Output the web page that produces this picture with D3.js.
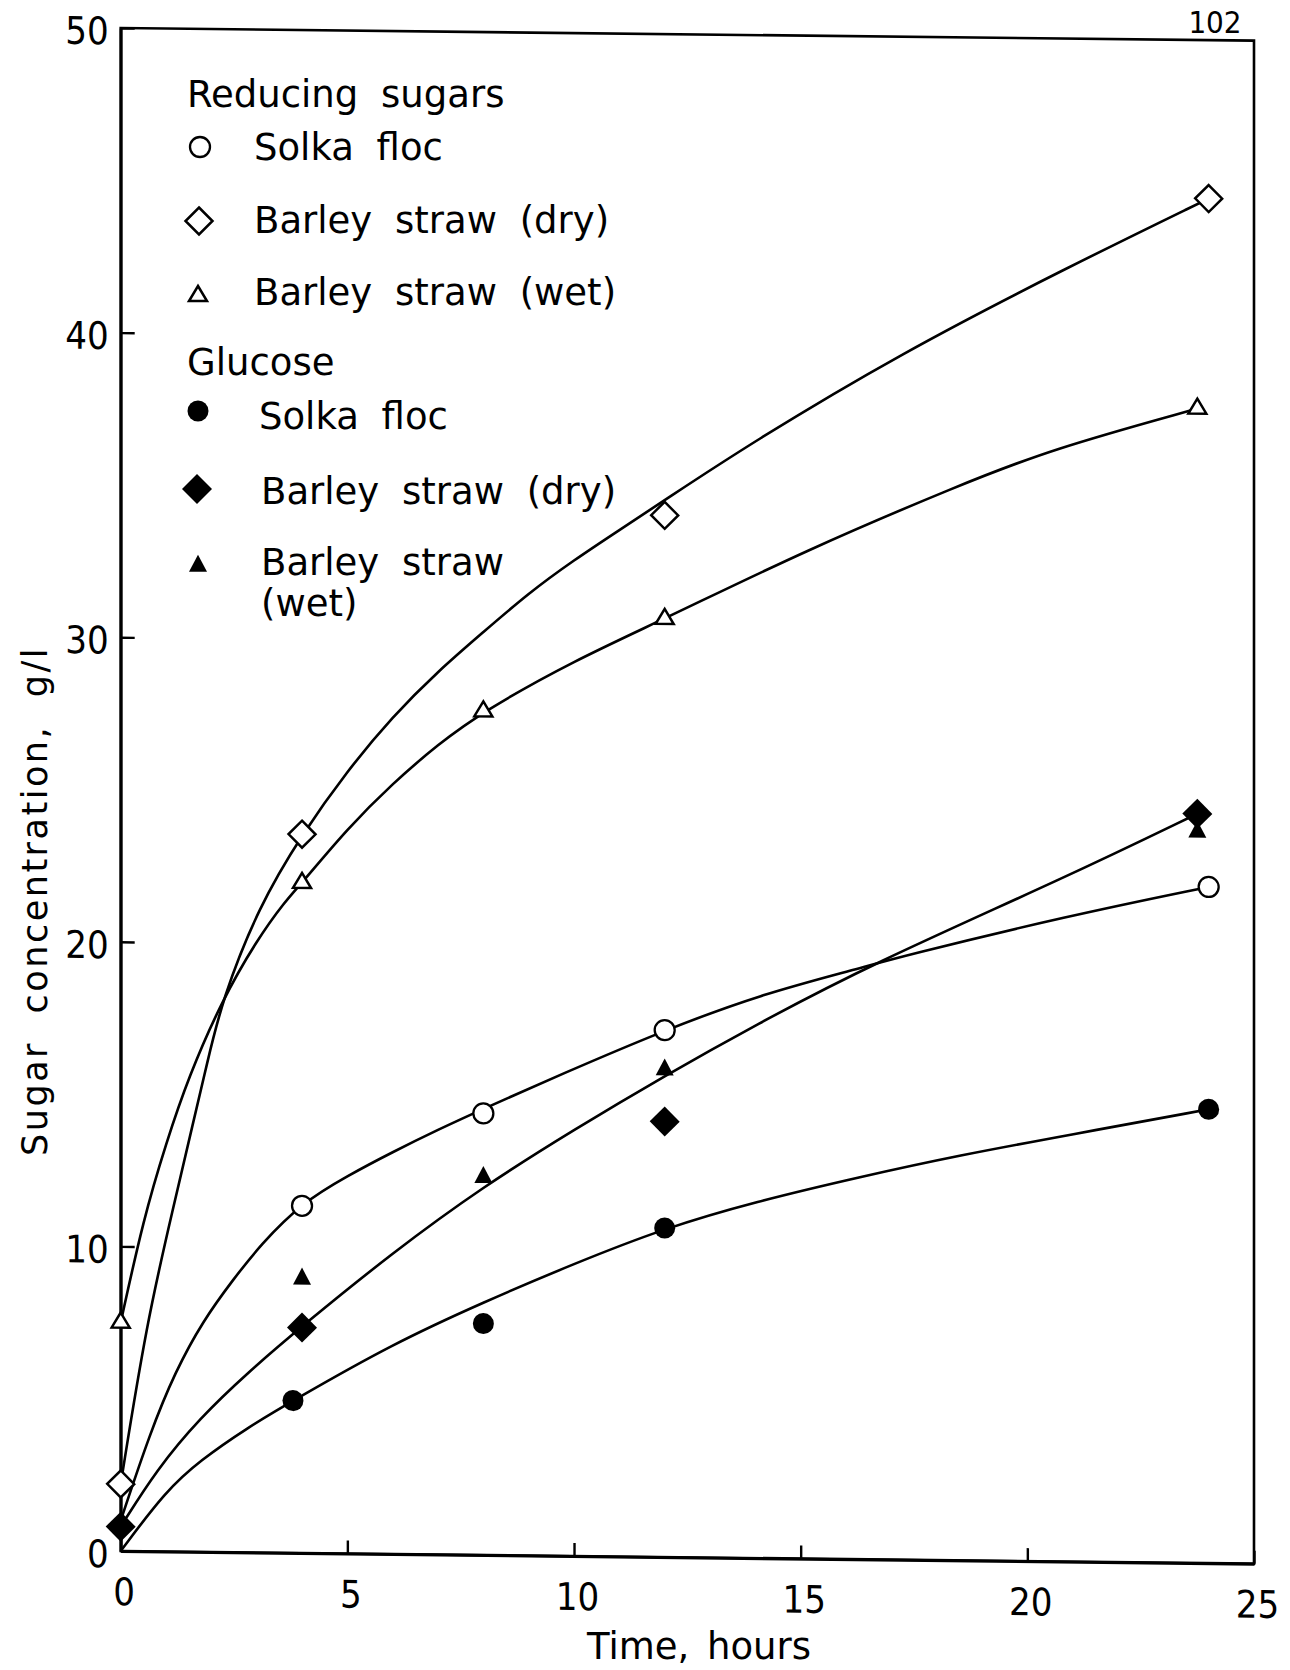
<!DOCTYPE html>
<html>
<head>
<meta charset="utf-8">
<script src="https://cdn.jsdelivr.net/npm/d3@7"></script>
<style>
  html, body { margin: 0; padding: 0; background: #fff; }
  svg { display: block; }
  text { font-family: "DejaVu Sans", "Noto Sans", sans-serif; fill: #000; }
  .num { font-family: "DejaVu Sans Condensed", "DejaVu Sans", sans-serif; font-stretch: condensed; }
</style>
</head>
<body>
<svg id="chart" width="1290" height="1670"></svg>
<script>
// ---- axis ticks ----
const xTicks = [0, 5, 10, 15, 20, 25];
const yTicks = [0, 10, 20, 30, 40, 50];

// ---- measured points (time in hours, concentration in g/l) ----
// Reducing sugars
const rsSolkaTime  = [4, 8, 12, 24];
const rsSolkaValue = [11.4, 14.5, 17.3, 22.2];
const rsDryTime    = [0, 4, 12, 24];
const rsDryValue   = [2.2, 23.6, 34.2, 44.8];
const rsWetTime    = [0, 4, 8, 12, 23.75];
const rsWetValue   = [7.5, 22.0, 27.7, 30.8, 37.9];
// Glucose
const glcSolkaTime  = [3.8, 8, 12, 24];
const glcSolkaValue = [5.0, 7.6, 10.8, 14.9];
const glcDryTime    = [0, 4, 12, 23.75];
const glcDryValue   = [0.8, 7.4, 14.3, 24.6];
const glcWetTime    = [4, 8, 12, 23.75];
const glcWetValue   = [9.0, 12.4, 16.0, 24.0];

// ---- hand-fitted smooth curves ----
const fitRsDryTime  = [0, 0.57, 1.16, 1.6, 1.9, 2.23, 3.04, 4, 5, 6, 7, 8, 9, 10, 11, 12, 13.9, 17.2, 20.9, 24];
const fitRsDryValue = [2.2, 7.5, 11.3, 14.1, 16.0, 18.1, 21.2, 23.6, 25.7, 27.5, 29.0, 30.3, 31.6, 32.7, 33.7, 34.7, 36.6, 39.6, 42.5, 44.8];
const fitRsWetTime  = [0, 0.5, 1.0, 1.5, 2.23, 3.0, 3.63, 4, 5, 6, 7, 8, 10, 12, 15.1, 18.5, 20.5, 23.75];
const fitRsWetValue = [7.5, 10.9, 13.4, 15.6, 18.1, 20.1, 21.4, 22.0, 23.8, 25.3, 26.6, 27.7, 29.4, 30.8, 33.1, 35.3, 36.5, 37.9];
const fitRsSolkaTime  = [0, 0.65, 1.2, 1.82, 2.48, 3.08, 4, 5, 6, 7, 8, 9.7, 12, 14.1, 16.3, 17.2, 20.9, 24];
const fitRsSolkaValue = [1.0, 3.9, 5.9, 7.6, 8.95, 10.1, 11.5, 12.4, 13.2, 13.95, 14.65, 15.8, 17.3, 18.5, 19.4, 19.8, 21.2, 22.2];
const fitGlcStrawTime  = [0, 0.8, 1.75, 2.8, 4, 6, 8, 10, 12, 14, 16.5, 20.9, 23.75];
const fitGlcStrawValue = [0.8, 2.7, 4.4, 5.9, 7.45, 9.9, 12.1, 14.0, 15.8, 17.5, 19.5, 22.5, 24.6];
const fitGlcSolkaTime  = [0, 1, 1.75, 2.8, 3.8, 6, 8, 10, 12, 14, 16.3, 18.5, 20.9, 24];
const fitGlcSolkaValue = [0, 2.0, 3.0, 4.1, 5.0, 6.9, 8.3, 9.6, 10.8, 11.7, 12.55, 13.3, 14.0, 14.9];

// ---- legend text ----
const legendHeads = ['Reducing sugars', 'Glucose'];
const legendLabels = ['Solka floc', 'Barley straw (dry)', 'Barley straw (wet)',
                      'Solka floc', 'Barley straw (dry)', 'Barley straw', '(wet)'];
const xTitle = 'Time, hours';
const yTitle = 'Sugar concentration, g/l';
const pageNumber = '102';

// ---- layout ----
const svg = d3.select('#chart');
const plot = { left: 120.7, top: 28, width: 1133.3, height: 1523 };
const x = d3.scaleLinear().domain([0, 25]).range([0, plot.width]);
const y = d3.scaleLinear().domain([0, 50]).range([plot.height, 0]);

// plot area, slightly sheared like the drawn sheet
const g = svg.append('g')
  .attr('transform', `translate(${plot.left},${plot.top}) skewY(0.64)`);

// frame
g.append('rect')
  .attr('x', 0).attr('y', 0)
  .attr('width', plot.width).attr('height', plot.height)
  .attr('fill', 'none').attr('stroke', '#000').attr('stroke-width', 2.6);

// y axis, ticks pointing inward
const ya = g.append('g').call(
  d3.axisLeft(y).tickValues(yTicks).tickFormat(d3.format('d'))
    .tickSizeInner(-14).tickSizeOuter(0).tickPadding(12));
ya.attr('font-size', null).attr('font-family', null);
ya.select('.domain').attr('stroke', '#000').attr('stroke-width', 3);
ya.selectAll('.tick line').attr('stroke', '#000').attr('stroke-width', 2.4);
ya.selectAll('.tick text').attr('class', 'num').attr('font-size', 38).attr('dy', '0.42em');

// x axis, ticks pointing inward
const xa = g.append('g').attr('transform', `translate(0,${plot.height})`).call(
  d3.axisBottom(x).tickValues(xTicks).tickFormat(d3.format('d'))
    .tickSizeInner(-13).tickSizeOuter(0).tickPadding(0));
xa.attr('font-size', null).attr('font-family', null);
xa.select('.domain').attr('stroke', '#000').attr('stroke-width', 3);
xa.selectAll('.tick line').attr('stroke', '#000').attr('stroke-width', 2.4);
xa.selectAll('.tick text').attr('class', 'num').attr('font-size', 38)
  .attr('y', 54).attr('dy', 0).attr('dx', 3);

// fitted curves, smoothed with a B-spline through the fit knots
const line = d3.line().x(d => x(d[0])).y(d => y(d[1])).curve(d3.curveBasis);
const fits = [
  [fitRsDryTime, fitRsDryValue],
  [fitRsWetTime, fitRsWetValue],
  [fitRsSolkaTime, fitRsSolkaValue],
  [fitGlcStrawTime, fitGlcStrawValue],
  [fitGlcSolkaTime, fitGlcSolkaValue]
];
fits.forEach(([t, v]) => {
  g.append('path')
    .attr('d', line(d3.zip(t, v)))
    .attr('fill', 'none').attr('stroke', '#000')
    .attr('stroke-width', 2.6).attr('stroke-linejoin', 'round');
});

// marker shapes
const shapes = {
  circle:   r => `M${-r},0A${r},${r} 0 1,0 ${r},0A${r},${r} 0 1,0 ${-r},0Z`,
  diamond:  d => `M0,${-d}L${d},0L0,${d}L${-d},0Z`,
  triangle: (w, h) => `M0,${-2 * h / 3}L${w / 2},${h / 3}L${-w / 2},${h / 3}Z`
};
const markerStyles = {
  rsSolka:  { path: shapes.circle(10),        fill: '#fff', sw: 2.3 },
  rsDry:    { path: shapes.diamond(13.5),     fill: '#fff', sw: 2.5 },
  rsWet:    { path: shapes.triangle(18, 15),  fill: '#fff', sw: 2.5 },
  glcSolka: { path: shapes.circle(10.5),      fill: '#000', sw: 0 },
  glcDry:   { path: shapes.diamond(15),       fill: '#000', sw: 0 },
  glcWet:   { path: shapes.triangle(18, 17),  fill: '#000', sw: 0 }
};

function drawMarkers(parent, times, values, style) {
  parent.append('g').selectAll('path')
    .data(d3.zip(times, values))
    .join('path')
    .attr('transform', d => `translate(${x(d[0])},${y(d[1])})`)
    .attr('d', style.path)
    .attr('fill', style.fill)
    .attr('stroke', '#000')
    .attr('stroke-width', style.sw)
    .attr('stroke-linejoin', 'miter');
}

drawMarkers(g, rsSolkaTime, rsSolkaValue, markerStyles.rsSolka);
drawMarkers(g, rsDryTime, rsDryValue, markerStyles.rsDry);
drawMarkers(g, rsWetTime, rsWetValue, markerStyles.rsWet);
drawMarkers(g, glcSolkaTime, glcSolkaValue, markerStyles.glcSolka);
drawMarkers(g, glcDryTime, glcDryValue, markerStyles.glcDry);
drawMarkers(g, glcWetTime, glcWetValue, markerStyles.glcWet);

// legend
const legend = svg.append('g');
const legendFont = 37;
function legendText(str, tx, ty) {
  legend.append('text').attr('x', tx).attr('y', ty)
    .attr('font-size', legendFont).attr('word-spacing', 11).text(str);
}
function legendMarker(style, mx, my) {
  legend.append('path')
    .attr('transform', `translate(${mx},${my})`)
    .attr('d', style.path).attr('fill', style.fill)
    .attr('stroke', '#000').attr('stroke-width', style.sw);
}
legendText(legendHeads[0], 187, 107);
legendMarker(markerStyles.rsSolka, 200, 147);
legendText(legendLabels[0], 254, 160);
legendMarker(markerStyles.rsDry, 199, 221);
legendText(legendLabels[1], 254, 233);
legendMarker(markerStyles.rsWet, 198, 296);
legendText(legendLabels[2], 254, 305);
legendText(legendHeads[1], 187, 375);
legendMarker(markerStyles.glcSolka, 198, 411);
legendText(legendLabels[3], 259, 429);
legendMarker(markerStyles.glcDry, 197, 489);
legendText(legendLabels[4], 261, 504);
legendMarker(markerStyles.glcWet, 198, 566);
legendText(legendLabels[5], 261, 575);
legendText(legendLabels[6], 261, 616);

// axis titles
svg.append('text')
  .attr('x', 699).attr('y', 1659)
  .attr('text-anchor', 'middle').attr('font-size', 37).attr('word-spacing', 6)
  .text(xTitle);
svg.append('text')
  .attr('transform', 'translate(47,901) rotate(-90)')
  .attr('text-anchor', 'middle').attr('font-size', 35)
  .attr('letter-spacing', 2.5).attr('word-spacing', 14)
  .text(yTitle);

// page number
svg.append('text')
  .attr('class', 'num')
  .attr('x', 1215).attr('y', 33)
  .attr('text-anchor', 'middle').attr('font-size', 31)
  .text(pageNumber);
</script>
</body>
</html>
